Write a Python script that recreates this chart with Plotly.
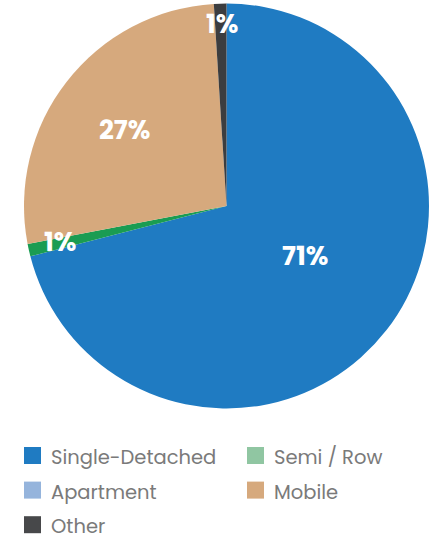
import math
import plotly.graph_objects as go

# Dwelling type shares (percent)
categories = ["Single-Detached", "Semi / Row", "Apartment", "Mobile", "Other"]
shares = [71, 1, 0, 27, 1]

slice_colors = ["#1f7bc2", "#1a9c52", "#95b4dc", "#d6a97d", "#3c3d3f"]
legend_colors = ["#1f7bc2", "#90c6a2", "#95b4dc", "#d6a97d", "#47484a"]

# label placement: fraction of the radius, and a small angular nudge (degrees)
label_radius = [0.457, 0.84, 0.6, 0.628, 0.90]
label_nudge = [-5.4, 0.4, 0.0, -1.0, 0.5]

W, H = 437, 539
CX, CY, R = 226.5, 206, 202.5

# two-column key below the pie (pixel layout)
KEY_X0, KEY_COL_W = 24, 223
KEY_Y0, KEY_ROW_H = 455.5, 34.6
SWATCH = 17
FONT = "Poppins, Inter, sans-serif"

fig = go.Figure()
fig.add_trace(go.Pie(
    labels=categories,
    values=shares,
    sort=False,
    direction="clockwise",
    rotation=0,
    marker=dict(colors=slice_colors, line=dict(width=0)),
    textinfo="none",
    hoverinfo="label+percent",
    showlegend=False,
    domain=dict(x=[(CX - R) / W, (CX + R) / W], y=[1 - (CY + R) / H, 1 - (CY - R) / H]),
))

# percentage labels around the middle angle of each slice
total = sum(shares)
cum = 0
annotations = []
for v, f, nudge in zip(shares, label_radius, label_nudge):
    if v > 0:
        mid = (cum + v / 2) / total * 2 * math.pi + math.radians(nudge)
        px = CX + f * R * math.sin(mid)
        py = CY - f * R * math.cos(mid)
        annotations.append(dict(
            x=px / W, y=1 - py / H, xref="paper", yref="paper",
            text=f"{round(v / total * 100)}%", showarrow=False,
            font=dict(family=FONT, size=26, color="white", weight="bold"),
            xanchor="center", yanchor="middle",
        ))
    cum += v

# key: coloured square + category name
shapes = []
for i, (name, col) in enumerate(zip(categories, legend_colors)):
    c, r = i % 2, i // 2
    x0 = KEY_X0 + c * KEY_COL_W
    yc = KEY_Y0 + r * KEY_ROW_H
    shapes.append(dict(
        type="rect", xref="paper", yref="paper",
        x0=x0 / W, x1=(x0 + SWATCH) / W,
        y0=1 - (yc + SWATCH / 2) / H, y1=1 - (yc - SWATCH / 2) / H,
        fillcolor=col, line=dict(width=0),
    ))
    annotations.append(dict(
        x=(x0 + SWATCH + 8) / W, y=1 - (yc + 2) / H, xref="paper", yref="paper",
        text=name, showarrow=False, xanchor="left", yanchor="middle",
        font=dict(family=FONT, size=19.5, color="#7a7a7a"),
    ))

fig.update_layout(
    width=W, height=H,
    margin=dict(l=0, r=0, t=0, b=0),
    paper_bgcolor="white",
    showlegend=False,
    annotations=annotations,
    shapes=shapes,
)

fig.write_html("out.html")
